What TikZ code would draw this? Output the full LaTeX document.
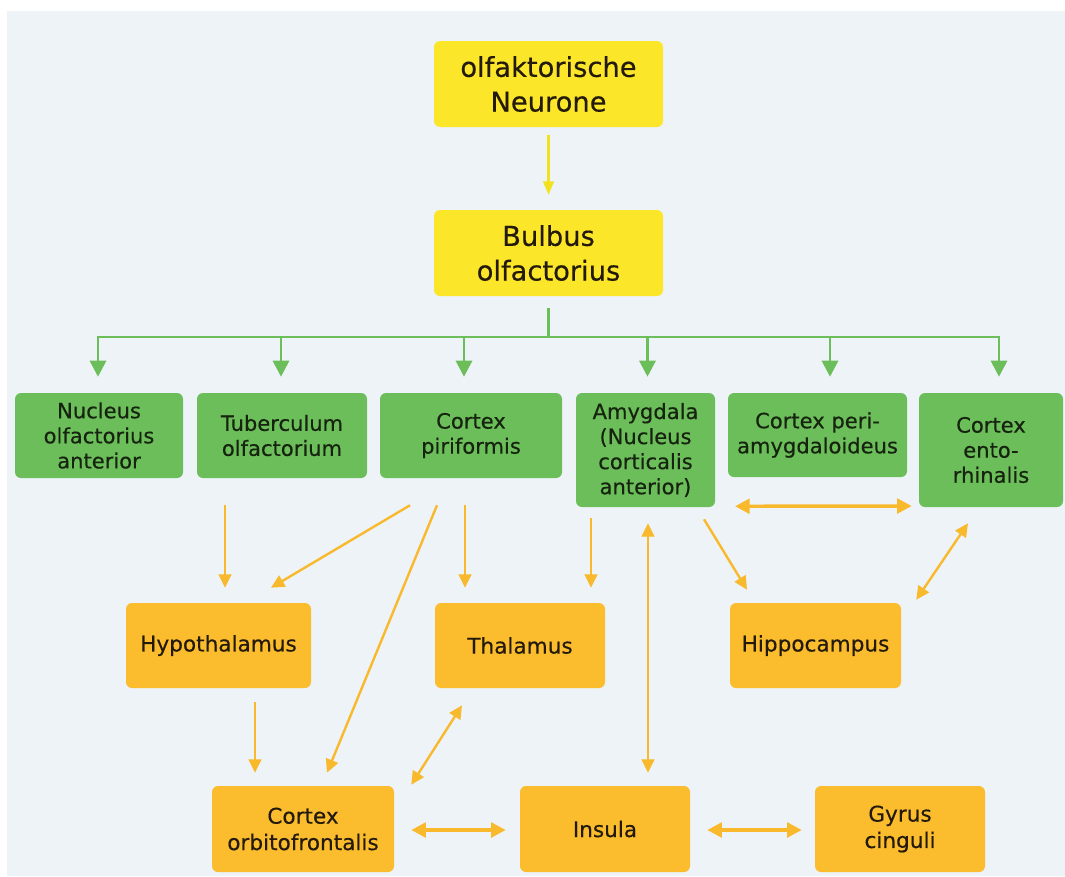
\documentclass[tikz,border=0pt]{standalone}
\usepackage{fontspec}
\setmainfont{DejaVu Sans}[UprightFeatures={FakeBold=0.4}]
\usetikzlibrary{arrows.meta,calc}
\definecolor{bgc}{HTML}{EEF3F8}
\definecolor{yfill}{HTML}{FCE62A}
\definecolor{gfill}{HTML}{6CBE5A}
\definecolor{ofill}{HTML}{FBBD2E}
\definecolor{yline}{HTML}{F2E21E}
\definecolor{gline}{HTML}{6CBE5A}
\definecolor{oline}{HTML}{F8B92C}
\definecolor{gtext}{HTML}{16240F}
\definecolor{otext}{HTML}{231A0C}
\begin{document}
\begin{tikzpicture}[x=0.75pt,y=-0.75pt,
  sz/.style 2 args={minimum width=#1*0.75pt, minimum height=#2*0.75pt},
  basebox/.style={rounded corners=4.5pt, inner sep=1pt, align=center, anchor=center},
  ybox/.style={basebox, fill=yfill, text=otext, font=\fontsize{20.5pt}{26pt}\selectfont},
  gbox/.style={basebox, fill=gfill, text=gtext, font=\fontsize{15.8pt}{18.8pt}\selectfont},
  obox/.style={basebox, fill=ofill, text=otext, font=\fontsize{16.2pt}{19.8pt}\selectfont},
  yarrow/.style={draw=yline, line width=1.6pt, -{Triangle[length=10pt,width=8pt]}},
  gplain/.style={draw=gline, line width=2.2pt},
  garrow/.style={draw=gline, line width=2.2pt, -{Triangle[length=12pt,width=12pt]}},
  oarrow/.style={draw=oline, line width=1.8pt, -{Triangle[length=10pt,width=9.5pt]}},
  obiarrow/.style={draw=oline, line width=1.8pt, {Triangle[length=10pt,width=9.5pt]}-{Triangle[length=10pt,width=9.5pt]}},
  othick/.style={draw=oline, line width=2.6pt, {Triangle[length=11pt,width=11pt]}-{Triangle[length=11pt,width=11pt]}}
]
\useasboundingbox (0,0) rectangle (1065,876);
\fill[white] (0,0) rectangle (1065,876);
\fill[bgc] (7,11) rectangle (1065,876);

% top boxes
\node[ybox, sz={229}{86}] (neur) at (548.5,84) {olfaktorische\\Neurone};
\node[ybox, sz={229}{86}] (bulb) at (548.5,253) {Bulbus\\olfactorius};

% green row
\node[gbox, sz={168}{85}] (noa) at (99,435.5) {Nucleus\\olfactorius\\anterior};
\node[gbox, sz={170}{85}] (tub) at (282,435.5) {Tuberculum\\olfactorium};
\node[gbox, sz={182}{85}] (cp) at (471,435.5) {Cortex\\piriformis};
\node[gbox, sz={139}{114}] (amy) at (645.5,450) {Amygdala\\(Nucleus\\corticalis\\anterior)};
\node[gbox, sz={179}{84}] (cpa) at (817.5,435) {Cortex peri-\\amygdaloideus};
\node[gbox, sz={144}{114}] (ce) at (991,450) {Cortex\\ento-\\rhinalis};

% orange boxes
\node[obox, sz={185}{85}] (hyp) at (218.5,645.5) {Hypothalamus};
\node[obox, sz={170}{85}] (thal) at (520,645.5) {Thalamus};
\node[obox, sz={171}{85}] (hip) at (815.5,645.5) {Hippocampus};
\node[obox, sz={182}{86}] (cof) at (303,829) {Cortex\\orbitofrontalis};
\node[obox, sz={170}{86}] (ins) at (605,829) {Insula};
\node[obox, sz={170}{86}] (gyr) at (900,829) {Gyrus\\cinguli};

% yellow arrow
\draw[yarrow] ($(neur.south)+(0,8)$) -- ($(bulb.north)+(0,-15)$);

% green distribution
\coordinate (bus) at (548.5,337);
\draw[gplain] ($(bulb.south)+(0,12)$) -- (bus);
\draw[garrow] (bus) -| ($(noa.north)+(-1,-16)$);
\draw[garrow] (bus) -| ($(tub.north)+(-1,-16)$);
\draw[garrow] (bus) -| ($(cp.north)+(-7,-16)$);
\draw[garrow] (bus) -| ($(amy.north)+(2,-16)$);
\draw[garrow] (bus) -| ($(cpa.north)+(12.5,-16)$);
\draw[garrow] (bus) -| ($(ce.north)+(8,-16)$);

% orange connections
\draw[oarrow] ($(tub.south)+(-57,27)$) -- ($(hyp.north)+(6.5,-15)$);
\draw[oarrow] ($(cp.south)+(-61,27)$) -- ($(hyp.north)+(52.5,-15)$);
\draw[oarrow] ($(cp.south)+(-34,27)$) -- ($(cof.north)+(24,-13)$);
\draw[oarrow] ($(cp.south)+(-6,27)$) -- ($(thal.north)+(-55,-15)$);
\draw[oarrow] ($(amy.south)+(-54.5,11)$) -- ($(thal.north)+(71,-15)$);
\draw[obiarrow] ($(amy.south)+(2.5,16)$) -- ($(ins.north)+(43,-13)$);
\draw[oarrow] ($(amy.south)+(58.5,12)$) -- ($(hip.north)+(-68.5,-13)$);
\draw[othick] ($(cpa.south)+(-82.5,29)$) -- ($(ce.west)+(-7,56)$);
\draw[obiarrow] ($(ce.south)+(-23,16)$) -- ($(hip.north east)+(15,-3)$);
\draw[oarrow] ($(hyp.south)+(36.5,14)$) -- ($(cof.north)+(-48,-13)$);
\draw[obiarrow] ($(thal.south)+(-58,17)$) -- ($(cof.north east)+(17,-1)$);
\draw[othick] ($(cof.east)+(17,1)$) -- ($(ins.west)+(-14,1)$);
\draw[othick] ($(ins.east)+(17,1)$) -- ($(gyr.west)+(-13,1)$);
\end{tikzpicture}
\end{document}
